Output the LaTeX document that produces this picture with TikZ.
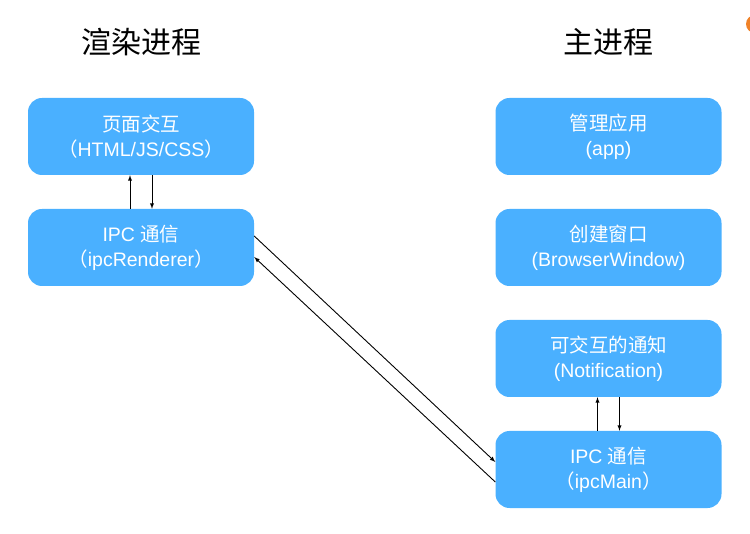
\documentclass[tikz,border=0pt]{standalone}
\usepackage{fontspec}
\setmainfont{Liberation Sans}
\newfontfamily\cjk{Noto Sans CJK SC}
\usetikzlibrary{positioning}
\definecolor{boxblue}{RGB}{74,176,255}
\definecolor{dotorange}{RGB}{240,130,40}
\begin{document}
\begin{tikzpicture}[x=1pt,y=-1pt,
        proc/.style={rectangle,rounded corners=14pt,fill=boxblue,text=white,minimum width=226pt,minimum height=77pt,align=center,inner sep=0pt,font=\fontsize{19.5}{25}\selectfont},
        title/.style={font=\cjk\fontsize{30}{34}\selectfont},
        link/.style={-latex,line width=0.9pt}]
    \useasboundingbox (0,0) rectangle (750,534);
    \fill[dotorange] (755,24) circle (9);
    % titles
    \node[title] (rtitle) at (141,42) {渲染进程};
    \node[title] (mtitle) at (608,42) {主进程};
    % renderer side
    \node[proc] (page) at (141,136.5) {{\cjk 页面交互}\\{\cjk （}HTML/JS/CSS{\cjk ）}};
    \node[proc] (ripc) at (141,247.5) {IPC {\cjk 通信}\\{\cjk （}ipcRenderer{\cjk ）}};
    % main side
    \node[proc] (app) at (608.5,136.5) {{\cjk 管理应用}\\(app)};
    \node[proc] (win) at (608.5,247.5) {{\cjk 创建窗口}\\(BrowserWindow)};
    \node[proc] (note) at (608.5,358.5) {{\cjk 可交互的通知}\\(Notification)};
    \node[proc] (mipc) at (608.5,469.5) {IPC {\cjk 通信}\\{\cjk （}ipcMain{\cjk ）}};
    % links
    \draw[link] ([xshift=-11pt]ripc.north) -- ([xshift=-11pt]page.south);
    \draw[link] ([xshift=11pt]page.south) -- ([xshift=11pt]ripc.north);
    \draw[link] ([xshift=-11pt]mipc.north) -- ([xshift=-11pt]note.south);
    \draw[link] ([xshift=11pt]note.south) -- ([xshift=11pt]mipc.north);
    \draw[link] ([yshift=11.5pt]ripc.east) -- ([yshift=7.5pt]mipc.west);
    \draw[link] ([yshift=-12.5pt]mipc.west) -- ([yshift=-9.5pt]ripc.east);
\end{tikzpicture}
\end{document}
